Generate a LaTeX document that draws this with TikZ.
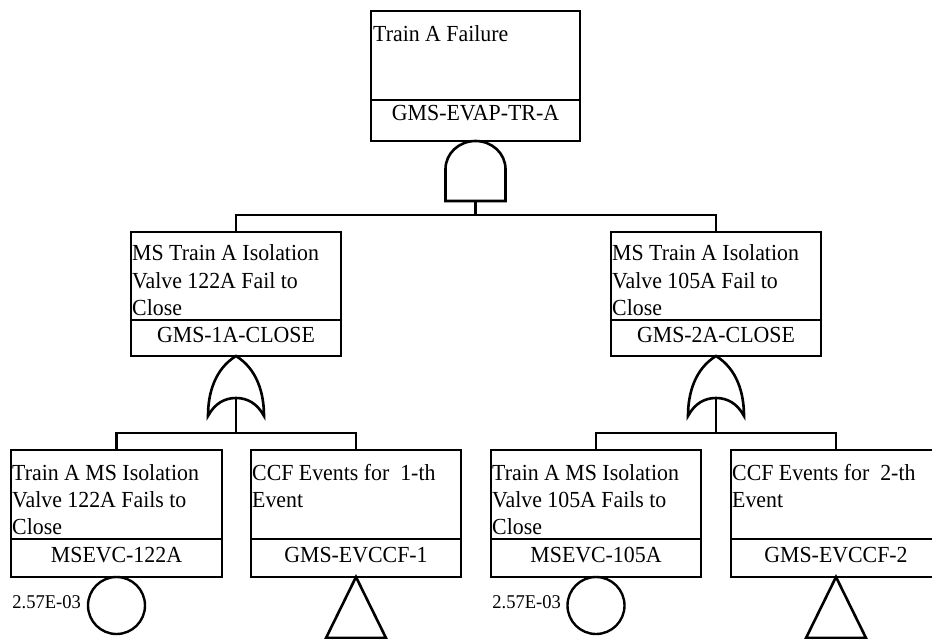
\documentclass[tikz,border=0pt]{standalone}
\usepackage{fontspec}
\setmainfont{Liberation Serif}[FakeStretch=0.95]
\tikzset{
  ln/.style={line width=2.6pt, draw=black, line join=miter},
  fbox/.style={draw=black, line width=2.6pt, rectangle, inner sep=0pt, outer sep=0pt, anchor=north west, minimum width=210pt},
  txt/.style={anchor=base west, inner sep=0pt, font=\fontsize{23}{27}\selectfont},
  idtxt/.style={anchor=base, inner sep=0pt, font=\fontsize{23}{27}\selectfont},
  prob/.style={anchor=base east, inner sep=0pt, font=\fontsize{19.5}{22}\selectfont},
  basic/.style={draw=black, line width=2.4pt, circle, inner sep=0pt, outer sep=0pt, minimum size=57pt, anchor=north},
  andgate/.pic={\draw[ln] (-30,60) -- (-30,28) .. controls (-30,12.5) and (-16.6,0) .. (0,0) .. controls (16.6,0) and (30,12.5) .. (30,28) -- (30,60) -- cycle;},
  orgate/.pic={\draw[ln] (0,0) .. controls (-21,13) and (-28,37) .. (-28,60) .. controls (-21,47) and (-11,42) .. (0,42) .. controls (11,42) and (21,47) .. (28,60) .. controls (28,37) and (21,13) .. (0,0) -- cycle;},
}
\begin{document}
\begin{tikzpicture}[x=1pt,y=-1pt]
\useasboundingbox (0,0) rectangle (932,639);
\clip (0,0) rectangle (932,639);

% ---------- top event ----------
\node[fbox, minimum width=209pt, minimum height=130pt] (T) at (371,11) {};
\draw[ln] (T.west |- 0,100) -- (T.east |- 0,100);
\node[txt] (Tl1) at (373,42) {Train A Failure};
\node[idtxt] (Tid) at (475.5,121) {GMS-EVAP-TR-A};
\pic at (T.south) {andgate};
\coordinate (G0out) at (475.5,200);
\coordinate (Bus0) at (475.5,215);

% ---------- middle gates ----------
\node[fbox, minimum height=124pt] (M1) at (131,232) {};
\draw[ln] (M1.west |- 0,320) -- (M1.east |- 0,320);
\node[txt] (M1l1) at (132,261) {MS Train A Isolation};
\node[txt] (M1l2) at (132,288) {Valve 122A Fail to};
\node[txt] (M1l3) at (132,315) {Close};
\node[idtxt] (M1id) at (236,342) {GMS-1A-CLOSE};
\pic at (M1.south) {orgate};
\coordinate (G1out) at (236,398);
\coordinate (Bus1) at (236,433);

\node[fbox, minimum height=124pt] (M2) at (611,232) {};
\draw[ln] (M2.west |- 0,320) -- (M2.east |- 0,320);
\node[txt] (M2l1) at (612,261) {MS Train A Isolation};
\node[txt] (M2l2) at (612,288) {Valve 105A Fail to};
\node[txt] (M2l3) at (612,315) {Close};
\node[idtxt] (M2id) at (716,342) {GMS-2A-CLOSE};
\pic at (M2.south) {orgate};
\coordinate (G2out) at (716,398);
\coordinate (Bus2) at (716,433);

% ---------- bottom events ----------
\node[fbox, minimum width=211pt, minimum height=127pt] (E1) at (11,450) {};
\draw[ln] (E1.west |- 0,539) -- (E1.east |- 0,539);
\node[txt] (E1l1) at (12,480) {Train A MS Isolation};
\node[txt] (E1l2) at (12,507) {Valve 122A Fails to};
\node[txt] (E1l3) at (12,534) {Close};
\node[idtxt] (E1id) at (116.5,562) {MSEVC-122A};
\node[basic] (C1) at (E1.south) {};
\node[prob] (P1) at (81,608) {2.57E-03};

\node[fbox, minimum height=127pt] (E2) at (251,450) {};
\draw[ln] (E2.west |- 0,539) -- (E2.east |- 0,539);
\node[txt] (E2l1) at (252,480) {CCF Events for\ \ 1-th};
\node[txt] (E2l2) at (252,507) {Event};
\node[idtxt] (E2id) at (356,562) {GMS-EVCCF-1};
\draw[ln] (E2.south) -- ++(-30,61) -- ++(60,0) -- cycle;

\node[fbox, minimum height=127pt] (E3) at (491,450) {};
\draw[ln] (E3.west |- 0,539) -- (E3.east |- 0,539);
\node[txt] (E3l1) at (492,480) {Train A MS Isolation};
\node[txt] (E3l2) at (492,507) {Valve 105A Fails to};
\node[txt] (E3l3) at (492,534) {Close};
\node[idtxt] (E3id) at (596,562) {MSEVC-105A};
\node[basic] (C3) at (E3.south) {};
\node[prob] (P3) at (561,608) {2.57E-03};

\node[fbox, minimum height=127pt] (E4) at (731,450) {};
\draw[ln] (E4.west |- 0,539) -- (E4.east |- 0,539);
\node[txt] (E4l1) at (732,480) {CCF Events for\ \ 2-th};
\node[txt] (E4l2) at (732,507) {Event};
\node[idtxt] (E4id) at (836,562) {GMS-EVCCF-2};
\draw[ln] (E4.south) -- ++(-30,61) -- ++(60,0) -- cycle;

% ---------- connectors ----------
\draw[ln] (G0out) -- (Bus0);
\draw[ln] (M1.north) |- (Bus0);
\draw[ln] (M2.north) |- (Bus0);
\draw[ln] (G1out) -- (Bus1);
\draw[ln] (E1.north) |- (Bus1);
\draw[ln] (E2.north) |- (Bus1);
\draw[ln] (G2out) -- (Bus2);
\draw[ln] (E3.north) |- (Bus2);
\draw[ln] (E4.north) |- (Bus2);
\end{tikzpicture}
\end{document}
